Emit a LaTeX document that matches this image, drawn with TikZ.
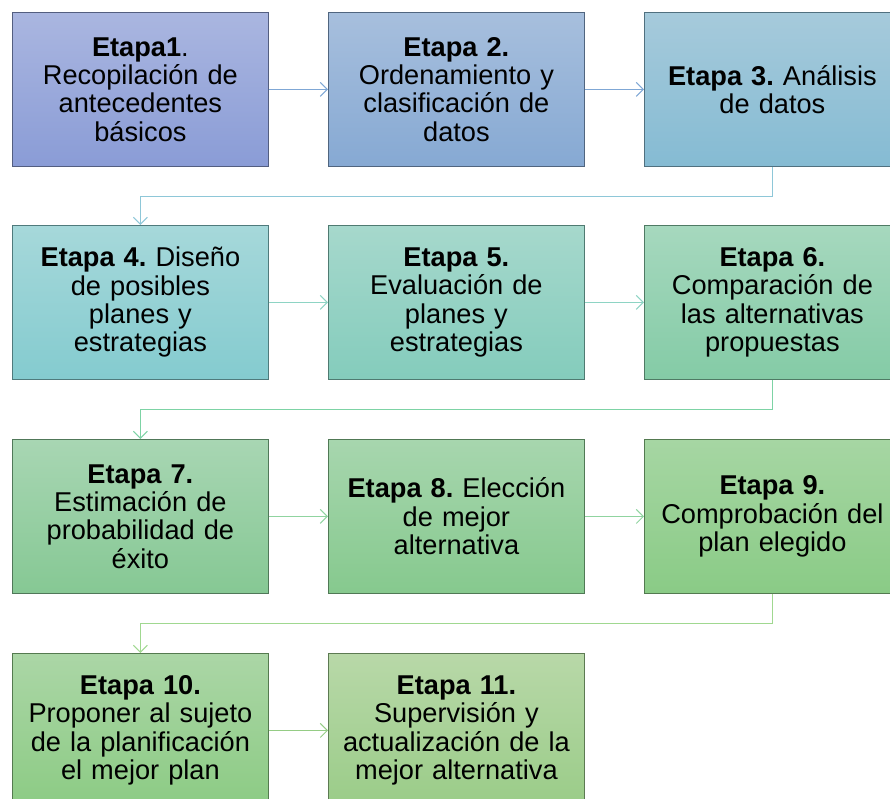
\documentclass[tikz,border=0pt]{standalone}
\usepackage{fontspec}
\setmainfont{Liberation Sans}
\usetikzlibrary{arrows.meta}
\frenchspacing
\definecolor{t1}{HTML}{AAB6E0}\definecolor{b1}{HTML}{8A9CD6}
\definecolor{t2}{HTML}{A7BFDD}\definecolor{b2}{HTML}{86A9D3}
\definecolor{t3}{HTML}{A6CADB}\definecolor{b3}{HTML}{85BBD3}
\definecolor{t4}{HTML}{A6D8DA}\definecolor{b4}{HTML}{84CBCF}
\definecolor{t5}{HTML}{A6D8CC}\definecolor{b5}{HTML}{84CCBC}
\definecolor{t6}{HTML}{A6D8BE}\definecolor{b6}{HTML}{84CBA6}
\definecolor{t7}{HTML}{A8D6B3}\definecolor{b7}{HTML}{86C894}
\definecolor{t8}{HTML}{A7D6AE}\definecolor{b8}{HTML}{86C98E}
\definecolor{t9}{HTML}{A6D6A3}\definecolor{b9}{HTML}{8ACB86}
\definecolor{t10}{HTML}{ABD6A6}\definecolor{b10}{HTML}{8CCB84}
\definecolor{t11}{HTML}{B8D8A8}\definecolor{b11}{HTML}{9ACC88}
\definecolor{a1}{HTML}{7FA7D5}
\definecolor{e1}{HTML}{8EC7D8}
\definecolor{a2}{HTML}{8ED4C4}
\definecolor{e2}{HTML}{7DD3A5}
\definecolor{a3}{HTML}{90D4A0}
\definecolor{e3}{HTML}{A0D890}
\definecolor{a4}{HTML}{95CC85}
\tikzset{
  stage/.style 2 args={draw=#2!60!black, line width=0.8pt, top color=#1, bottom color=#2,
    minimum width=256pt, minimum height=154pt, inner sep=0pt, text width=252pt,
    align=center, anchor=north west,
    font=\fontsize{27.2}{28.3}\selectfont},
  conn/.style={draw=#1, line width=1pt, -{Straight Barb[length=7pt,width=14pt]}}
}
\begin{document}
\begin{tikzpicture}[x=1pt,y=-1pt]
\useasboundingbox (0,0) rectangle (890,799);
\node[stage={t1}{b1}] (s1) at (12,12) {\textbf{Etapa1}.\\Recopilación de\\antecedentes\\básicos};
\node[stage={t2}{b2}] (s2) at (328,12) {\textbf{Etapa 2.}\\Ordenamiento y\\clasificación de\\datos};
\node[stage={t3}{b3}] (s3) at (644,12) {\textbf{Etapa 3.} Análisis\\de datos};
\node[stage={t4}{b4}] (s4) at (12,225) {\textbf{Etapa 4.} Diseño\\de posibles\\planes y\\estrategias};
\node[stage={t5}{b5}] (s5) at (328,225) {\textbf{Etapa 5.}\\Evaluación de\\planes y\\estrategias};
\node[stage={t6}{b6}] (s6) at (644,225) {\textbf{Etapa 6.}\\Comparación de\\las alternativas\\propuestas};
\node[stage={t7}{b7}] (s7) at (12,439) {\textbf{Etapa 7.}\\Estimación de\\probabilidad de\\éxito};
\node[stage={t8}{b8}] (s8) at (328,439) {\textbf{Etapa 8.} Elección\\de mejor\\alternativa};
\node[stage={t9}{b9}] (s9) at (644,439) {\textbf{Etapa 9.}\\Comprobación del\\plan elegido};
\node[stage={t10}{b10}] (s10) at (12,653) {\textbf{Etapa 10.}\\Proponer al sujeto\\de la planificación\\el mejor plan};
\node[stage={t11}{b11}] (s11) at (328,653) {\textbf{Etapa 11.}\\Supervisión y\\actualización de la\\mejor alternativa};
\draw[conn=a1] (s1) -- (s2);
\draw[conn=a1] (s2) -- (s3);
\draw[conn=e1] (s3.south) -- ++(0,30) -| (s4.north);
\draw[conn=a2] (s4) -- (s5);
\draw[conn=a2] (s5) -- (s6);
\draw[conn=e2] (s6.south) -- ++(0,30) -| (s7.north);
\draw[conn=a3] (s7) -- (s8);
\draw[conn=a3] (s8) -- (s9);
\draw[conn=e3] (s9.south) -- ++(0,30) -| (s10.north);
\draw[conn=a4] (s10) -- (s11);
\end{tikzpicture}
\end{document}
